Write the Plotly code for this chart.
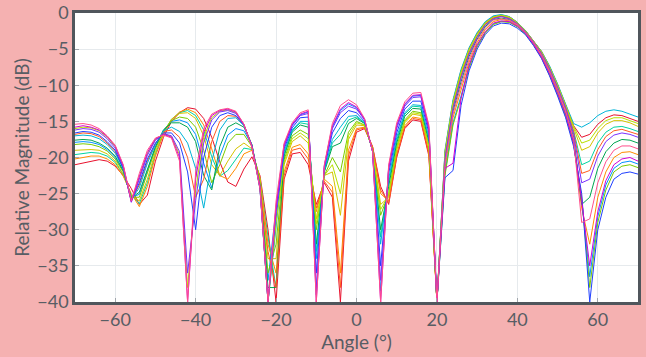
import plotly.graph_objects as go

# Sample angles (degrees)
angles = [-70, -68, -66, -64, -62, -60, -58, -56, -54, -52, -50, -48, -46, -44, -42, -40,
          -38, -36, -34, -32, -30, -28, -26, -24, -22, -20, -18, -16, -14, -12, -10, -8,
          -6, -4, -2, 0, 2, 4, 6, 8, 10, 12, 14, 16, 18, 20, 22, 24, 26, 28, 30, 32, 34,
          36, 38, 40, 42, 44, 46, 48, 50, 52, 54, 56, 58, 60, 62, 64, 66, 68, 70]

# Relative magnitude (dB) of each pattern
mag_01 = [-21.0, -20.8, -20.5, -20.3, -20.5, -21.2, -22.5, -24.3, -26.5, -25.2, -20.5, -17.2, -15.0, -13.8, -13.1, -13.3,
          -14.6, -17.2, -20.6, -23.4, -24.0, -21.6, -19.9, -22.5, -30.0,
          -40.0, -23.0, -19.5, -19.3, -21.0, -26.5, -23.5, -25.5, -40.0, -20.5, -16.5, -16.0, -18.5, -24.0, -26.5,
          -20.0, -16.0, -14.8, -15.0, -19.8,
          -40.0, -19.2, -12.2, -8.0, -4.9, -2.8, -1.3, -0.5, -0.3, -0.5, -1.3, -2.4, -3.9, -5.3, -7.4, -9.9, -12.7,
          -15.6, -17.2, -16.8, -15.4, -14.5, -14.1, -14.2, -14.6, -15.0]
mag_02 = [-20.2, -20.0, -19.8, -19.8, -20.2, -21.0, -22.6, -25.0, -26.8, -24.0, -19.8, -16.8, -14.8, -13.7, -13.3, -13.8,
          -15.5, -18.8, -22.5, -23.0, -21.5, -19.5, -19.0, -22.8, -32.0,
          -36.0, -22.0, -18.6, -18.2, -19.5, -27.5, -23.0, -24.0, -36.0, -19.0, -16.0, -15.8, -18.6, -25.0, -26.0,
          -19.5, -15.6, -14.4, -14.6, -19.3,
          -40.0, -21.5, -14.5, -10.6, -6.8, -4.1, -2.3, -1.2, -0.9, -1.1, -1.7, -2.7, -4.2, -5.9, -8.2, -10.9, -13.8,
          -17.8, -27.0, -32.0, -25.5, -22.0, -20.0, -19.3, -19.2, -19.6]
mag_03 = [-19.0, -18.9, -18.9, -19.0, -19.5, -20.5, -22.3, -25.3, -26.0, -23.0, -19.2, -16.5, -14.7, -13.9, -13.8, -14.6,
          -17.0, -21.0, -22.5, -20.5, -18.8, -18.0, -18.8, -23.0, -34.0,
          -34.0, -21.0, -17.8, -17.0, -18.0, -28.5, -22.5, -22.0, -28.0, -17.5, -15.5, -15.6, -18.8, -26.5, -25.5,
          -19.0, -15.2, -14.0, -14.2, -18.8,
          -40.0, -19.5, -12.5, -8.3, -5.1, -3.0, -1.4, -0.6, -0.3, -0.6, -1.4, -2.5, -3.9, -5.4, -7.5, -10.0, -12.8,
          -15.9, -19.0, -18.5, -16.6, -15.4, -14.9, -14.9, -15.2, -15.7]
mag_04 = [-18.2, -18.1, -18.2, -18.5, -19.1, -20.2, -22.0, -25.5, -25.5, -22.2, -18.8, -16.3, -14.9, -14.4, -14.6, -15.8,
          -19.0, -23.5, -21.0, -18.0, -16.8, -16.8, -18.5, -23.5, -36.0,
          -32.0, -20.3, -17.0, -16.2, -16.8, -30.0, -22.5, -20.0, -22.0, -16.5, -15.0, -15.5, -19.0, -28.0, -25.0,
          -18.5, -14.8, -13.6, -13.8, -18.3,
          -40.0, -22.5, -15.5, -11.8, -7.6, -4.7, -2.8, -1.6, -1.2, -1.3, -1.9, -2.9, -4.4, -6.2, -8.6, -11.3, -14.3,
          -18.2, -25.5, -38.0, -29.0, -24.5, -22.0, -21.2, -21.0, -21.4]
mag_05 = [-17.6, -17.5, -17.6, -18.0, -18.7, -19.8, -21.8, -25.6, -24.8, -21.5, -18.5, -16.2, -15.2, -15.2, -15.8, -17.8,
          -22.5, -24.5, -18.5, -15.8, -15.2, -15.8, -18.2, -24.0, -38.0,
          -38.0, -19.8, -16.5, -15.5, -15.8, -32.0, -22.0, -18.5, -18.0, -15.3, -14.6, -15.3, -19.0, -30.0, -24.0,
          -18.0, -14.3, -13.2, -13.3, -17.8,
          -40.0, -20.5, -13.6, -9.5, -6.0, -3.6, -1.9, -0.9, -0.7, -0.9, -1.5, -2.6, -4.0, -5.7, -7.9, -10.5, -13.3,
          -17.2, -26.5, -25.5, -21.5, -19.2, -18.0, -17.5, -17.6, -18.0]
mag_06 = [-17.0, -16.9, -17.0, -17.4, -18.2, -19.4, -21.6, -25.8, -24.2, -20.8, -18.2, -16.3, -15.8, -16.4, -18.0, -21.5,
          -27.0, -20.5, -16.2, -14.6, -14.5, -15.6, -18.3, -24.2, -40.0,
          -30.0, -19.2, -16.2, -15.0, -15.0, -34.0, -21.8, -17.5, -15.8, -14.3, -14.2, -15.2, -19.0, -32.0, -23.0,
          -17.2, -13.8, -12.7, -12.8, -17.2,
          -40.0, -19.0, -12.0, -7.8, -4.8, -2.7, -1.2, -0.4, -0.2, -0.5, -1.3, -2.4, -3.9, -5.3, -7.3, -9.8, -12.6,
          -15.3, -15.8, -15.2, -14.2, -13.6, -13.4, -13.6, -14.0, -14.4]
mag_07 = [-16.6, -16.4, -16.5, -16.9, -17.8, -19.0, -21.5, -26.0, -23.5, -20.2, -18.0, -16.6, -16.6, -18.0, -22.0, -30.0,
          -20.0, -15.8, -14.2, -13.8, -14.2, -15.5, -18.4, -24.4, -40.0,
          -28.5, -18.8, -15.9, -14.5, -14.4, -36.0, -21.5, -16.6, -14.6, -13.5, -13.8, -15.0, -19.1, -35.0, -22.2,
          -16.6, -13.3, -12.2, -12.2, -16.6,
          -40.0, -22.8, -21.8, -12.8, -8.0, -5.0, -3.0, -1.8, -1.4, -1.5, -2.1, -3.0, -4.5, -6.3, -8.7, -11.5, -14.5,
          -18.5, -25.0, -40.0, -30.0, -25.5, -23.0, -22.2, -22.0, -22.3]
mag_08 = [-16.2, -16.0, -16.1, -16.5, -17.4, -18.7, -21.3, -26.2, -23.0, -19.7, -17.6, -16.7, -17.0, -19.2, -36.0, -26.0,
          -18.0, -14.8, -13.7, -13.5, -13.9, -15.5, -18.4, -24.2, -40.0,
          -27.5, -18.5, -15.6, -14.2, -13.9, -38.0, -21.3, -16.0, -13.8, -12.9, -13.3, -14.8, -19.2, -37.0, -21.6,
          -16.0, -12.9, -11.7, -11.6, -16.2,
          -40.0, -20.2, -13.2, -9.0, -5.7, -3.4, -1.7, -0.8, -0.5, -0.8, -1.5, -2.6, -4.0, -5.6, -7.7, -10.3, -13.1,
          -16.8, -23.5, -23.0, -19.8, -17.8, -16.9, -16.6, -16.8, -17.2]
mag_09 = [-15.8, -15.6, -15.8, -16.2, -17.1, -18.4, -21.1, -26.1, -22.6, -19.3, -17.4, -16.8, -17.2, -20.0, -40.0, -23.0,
          -16.5, -14.2, -13.5, -13.3, -13.7, -15.4, -18.5, -24.0, -40.0,
          -26.7, -18.2, -15.4, -14.0, -13.6, -40.0, -21.1, -15.6, -13.3, -12.4, -13.0, -14.7, -19.2, -40.0, -21.3,
          -15.5, -12.6, -11.4, -11.3, -15.8,
          -40.0, -21.5, -20.8, -11.8, -7.2, -4.4, -2.6, -1.4, -1.1, -1.2, -1.8, -2.8, -4.3, -6.1, -8.4, -11.1, -14.0,
          -18.0, -26.0, -35.0, -27.5, -23.2, -21.0, -20.2, -20.0, -20.5]
mag_10 = [-15.4, -15.3, -15.5, -16.0, -17.0, -18.3, -21.0, -26.0, -22.2, -19.0, -17.3, -16.9, -17.3, -20.5, -40.0, -22.0,
          -16.0, -14.0, -13.4, -13.2, -13.6, -15.4, -18.6, -24.3, -40.0,
          -26.0, -18.0, -15.2, -13.8, -13.4, -40.0, -21.0, -15.3, -12.8, -12.0, -12.7, -14.6, -19.2, -40.0, -21.0,
          -15.2, -12.3, -11.1, -11.0, -15.5,
          -40.0, -21.0, -14.0, -10.0, -6.4, -3.8, -2.1, -1.0, -0.8, -1.0, -1.6, -2.7, -4.1, -5.8, -8.0, -10.6, -13.5,
          -17.5, -29.0, -28.5, -23.5, -20.6, -19.0, -18.4, -18.4, -18.8]
mag_11 = [-19.6, -19.4, -19.3, -19.4, -19.8, -20.7, -22.4, -25.2, -26.4, -23.5, -19.5, -16.6, -14.7, -13.8, -13.5, -14.2,
          -16.2, -19.9, -22.6, -21.8, -20.2, -18.7, -18.9, -22.9, -31.0,
          -38.0, -19.5, -16.3, -15.2, -15.4, -33.0, -21.9, -18.0, -16.8, -14.8, -14.4, -15.2, -19.0, -31.0, -23.5,
          -17.6, -14.0, -12.9, -13.0, -17.5,
          -40.0, -19.8, -12.8, -8.6, -5.4, -3.2, -1.5, -0.7, -0.4, -0.7, -1.4, -2.5, -4.0, -5.5, -7.6, -10.1, -12.9,
          -16.3, -21.0, -20.5, -18.0, -16.5, -15.8, -15.7, -16.0, -16.4]
mag_12 = [-16.8, -16.6, -16.7, -17.1, -18.0, -19.2, -21.5, -25.9, -23.8, -20.5, -18.1, -16.4, -16.2, -17.2, -20.0, -25.5,
          -23.0, -17.8, -15.0, -14.2, -14.3, -15.5, -18.3, -24.3, -33.0,
          -38.0, -22.5, -19.0, -18.7, -20.2, -27.0, -23.3, -24.8, -38.0, -19.8, -16.2, -15.9, -18.5, -24.5, -26.3,
          -19.8, -15.8, -14.6, -14.8, -19.5,
          -40.0, -20.0, -13.0, -8.8, -5.5, -3.3, -1.6, -0.7, -0.45, -0.75, -1.45, -2.55, -4.0, -5.55, -7.65, -10.2, -13.0,
          -16.5, -22.2, -21.8, -18.9, -17.1, -16.3, -16.1, -16.4, -16.8]
mag_13 = [-16.0, -15.8, -15.9, -16.3, -17.2, -18.5, -21.2, -26.1, -22.8, -19.5, -17.5, -16.7, -17.1, -19.6, -38.0, -24.5,
          -17.2, -14.5, -13.6, -13.4, -13.8, -15.4, -18.5, -24.1, -40.0,
          -29.0, -20.6, -17.4, -16.6, -17.4, -29.2, -22.5, -21.0, -25.0, -17.0, -15.2, -15.5, -18.9, -27.2, -25.2,
          -18.8, -15.0, -13.8, -14.0, -18.5,
          -40.0, -19.3, -12.3, -8.1, -5.0, -2.9, -1.35, -0.55, -0.3, -0.55, -1.35, -2.45, -3.9, -5.35, -7.45, -9.95, -12.75,
          -15.7, -18.0, -17.6, -16.0, -14.9, -14.5, -14.5, -14.9, -15.3]
mag_14 = [-17.9, -17.8, -17.9, -18.2, -18.9, -20.0, -21.9, -25.5, -25.1, -21.8, -18.6, -16.2, -15.0, -14.8, -15.2, -16.8,
          -20.8, -24.2, -19.8, -16.9, -16.0, -16.3, -18.3, -23.8, -37.0,
          -27.0, -18.3, -15.5, -14.1, -13.7, -39.0, -21.2, -15.8, -13.5, -12.6, -13.1, -14.7, -19.2, -38.5, -21.4,
          -15.7, -12.7, -11.5, -11.4, -16.0,
          -40.0, -22.2, -15.2, -11.5, -7.4, -4.5, -2.7, -1.5, -1.15, -1.25, -1.85, -2.85, -4.35, -6.15, -8.5, -11.2, -14.1,
          -18.1, -25.8, -36.5, -28.2, -23.8, -21.5, -20.7, -20.5, -20.9]

series = [mag_01, mag_11, mag_02, mag_03, mag_14, mag_04, mag_05, mag_12,
          mag_06, mag_07, mag_13, mag_08, mag_09, mag_10]
colors = ['#e8112d', '#00d4a0', '#ff8c00', '#d4c400', '#0090ff', '#7acc00', '#00a651',
          '#ff5a1f', '#00b4d8', '#1f3fff', '#b8e000', '#7b2fff', '#d400d4', '#ff4f8b']

x_ticks = [-60, -40, -20, 0, 20, 40, 60]
y_ticks = [0, -5, -10, -15, -20, -25, -30, -35, -40]

fig = go.Figure()
for vals, col in zip(series, colors):
    fig.add_trace(go.Scatter(x=angles, y=vals, mode='lines',
                             line=dict(color=col, width=1), hoverinfo='skip'))

axis_common = dict(showgrid=True, gridcolor='#E6EAED', gridwidth=1, zeroline=False,
                   showline=True, linecolor='#50565C', linewidth=2.5, mirror=True,
                   ticks='inside', ticklen=4, tickcolor='#A0A6AC', automargin=False,
                   tickfont=dict(family='Lato', size=18, color='#585D64'))

fig.update_layout(
    width=646, height=357,
    margin=dict(l=75, r=8, t=13, b=55),
    paper_bgcolor='#F5B1B1', plot_bgcolor='white',
    showlegend=False,
    font=dict(family='Lato', size=18, color='#585D64'),
    xaxis=dict(range=[-70, 70], tickvals=x_ticks,
               title=dict(text='Angle (°)', font=dict(family='Lato', size=19, color='#585D64'), standoff=2),
               **axis_common),
    yaxis=dict(range=[-40, 0], tickvals=y_ticks,
               title=dict(text='Relative Magnitude (dB)', font=dict(family='Lato', size=19, color='#585D64'), standoff=3),
               **axis_common),
)

fig.write_html("out.html", config={'displayModeBar': False},
               post_script="document.body.style.margin='0';document.body.style.overflow='hidden';")
